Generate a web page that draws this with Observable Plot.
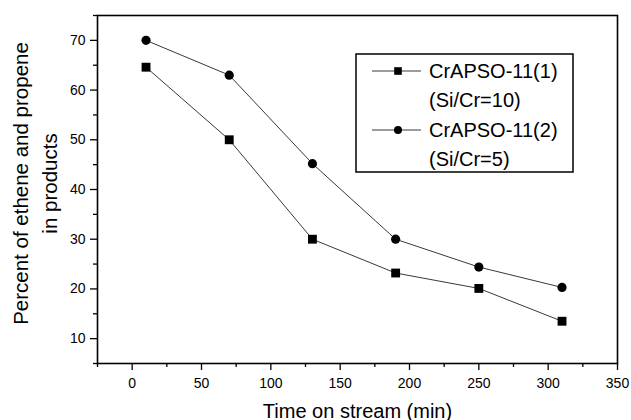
<!DOCTYPE html>
<html>
<head>
<meta charset="utf-8">
<script src="https://cdn.jsdelivr.net/npm/d3@7"></script>
<script src="https://cdn.jsdelivr.net/npm/@observablehq/plot@0.6"></script>
<style>
  html, body { margin: 0; padding: 0; background: #fff; }
  #chart { position: relative; width: 631px; height: 420px; }
</style>
</head>
<body>
<div id="chart"></div>
<script>
// ---- data ----
const times = [10, 70, 130, 190, 250, 310];
const series1Name = "CrAPSO-11(1)";
const series1Sub = "(Si/Cr=10)";
const series1 = [64.6, 50, 30, 23.2, 20.1, 13.5];
const series2Name = "CrAPSO-11(2)";
const series2Sub = "(Si/Cr=5)";
const series2 = [70, 63, 45.2, 30, 24.4, 20.3];
const xTicks = [0, 50, 100, 150, 200, 250, 300, 350];
const xMinor = [-25, 25, 75, 125, 175, 225, 275, 325];
const yTicks = [10, 20, 30, 40, 50, 60, 70];
const yMinor = [5, 15, 25, 35, 45, 55, 65, 75];
const xTitle = "Time on stream (min)";
const yTitle = "Percent of ethene and propene\nin products";

const d1 = times.map((t, i) => ({t, v: series1[i]}));
const d2 = times.map((t, i) => ({t, v: series2[i]}));

const font = "'Liberation Sans', Arial, Helvetica, sans-serif";

const plot = Plot.plot({
  width: 631,
  height: 420,
  marginLeft: 97,
  marginRight: 14,
  marginTop: 15,
  marginBottom: 57,
  style: {fontFamily: font, fontSize: "14px", color: "#000", background: "#fff"},
  x: {domain: [-25, 350]},
  y: {domain: [5, 75]},
  marks: [
    Plot.frame({stroke: "#000", strokeWidth: 1.6}),
    Plot.axisX({ticks: xTicks, tickSize: 7, tickPadding: 8, tickFormat: d => String(d), label: null, fontSize: 14, strokeWidth: 1.3}),
    Plot.axisX({ticks: xMinor, tickSize: 4, tickFormat: () => "", label: null, strokeWidth: 1.3}),
    Plot.axisY({ticks: yTicks, tickSize: 7, tickPadding: 5, tickFormat: d => String(d), label: null, fontSize: 14, strokeWidth: 1.3}),
    Plot.axisY({ticks: yMinor, tickSize: 4, tickFormat: () => "", label: null, strokeWidth: 1.3}),
    Plot.line(d1, {x: "t", y: "v", stroke: "#222", strokeWidth: 0.9}),
    Plot.line(d2, {x: "t", y: "v", stroke: "#222", strokeWidth: 0.9}),
    Plot.dot(d1, {x: "t", y: "v", symbol: "square", r: 5, fill: "#000", stroke: "none"}),
    Plot.dot(d2, {x: "t", y: "v", symbol: "circle", r: 4.6, fill: "#000", stroke: "none"}),
    Plot.text([xTitle], {frameAnchor: "bottom", dy: 54, lineAnchor: "bottom", textAnchor: "middle", fontSize: 20, fill: "#000"}),
    Plot.text([yTitle], {frameAnchor: "left", dx: -64, dy: -6, rotate: -90, textAnchor: "middle", lineAnchor: "middle", lineHeight: 1.4, fontSize: 20.5, fill: "#000"})
  ]
});

document.getElementById("chart").appendChild(plot);

// ---- legend ----
const svg = d3.select(plot);
const lg = svg.append("g").attr("font-family", font).attr("font-size", 20).attr("text-anchor", "start");
lg.append("rect").attr("x", 356).attr("y", 54).attr("width", 217).attr("height", 118)
  .attr("fill", "#fff").attr("stroke", "#000").attr("stroke-width", 1.5);
const entries = [
  {name: series1Name, sub: series1Sub, sym: "square", y: 71},
  {name: series2Name, sub: series2Sub, sym: "circle", y: 130}
];
for (const e of entries) {
  lg.append("line").attr("x1", 372).attr("x2", 421).attr("y1", e.y).attr("y2", e.y)
    .attr("stroke", "#222").attr("stroke-width", 0.9);
  if (e.sym === "square") {
    lg.append("rect").attr("x", 398 - 3.8).attr("y", e.y - 3.8).attr("width", 7.6).attr("height", 7.6).attr("fill", "#000");
  } else {
    lg.append("circle").attr("cx", 398).attr("cy", e.y).attr("r", 4).attr("fill", "#000");
  }
  lg.append("text").attr("x", 429).attr("y", e.y).attr("dy", "0.35em").text(e.name);
  lg.append("text").attr("x", 429).attr("y", e.y + 29).attr("dy", "0.35em").text(e.sub);
}
</script>
</body>
</html>
